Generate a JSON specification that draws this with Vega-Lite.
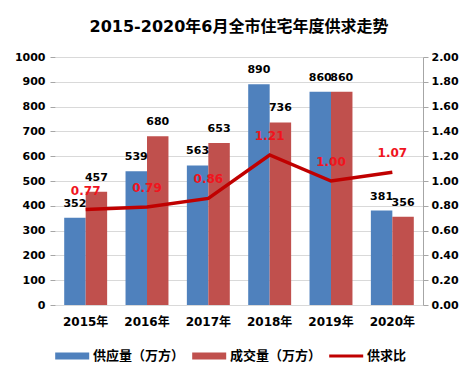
{
  "$schema": "https://vega.github.io/schema/vega-lite/v6.json",
  "width": 368,
  "height": 248,
  "padding": {"left": 14, "top": 19, "right": 5, "bottom": 5},
  "background": "white",
  "title": {
    "text": "2015-2020年6月全市住宅年度供求走势",
    "fontSize": 16,
    "font": "DejaVu Sans, Noto Sans CJK SC",
    "fontWeight": "bold",
    "color": "#000000",
    "anchor": "middle",
    "offset": 16
  },
  "config": {
    "view": {"stroke": null},
    "font": "DejaVu Sans, Noto Sans CJK SC",
    "axis": {
      "labelFont": "DejaVu Sans, Noto Sans CJK SC",
      "labelFontWeight": "bold",
      "labelColor": "#000000",
      "titleFontWeight": "bold"
    }
  },
  "datasets": {
    "bars": [
      {"year": "2015年", "series": "供应量（万方）", "value": 352},
      {"year": "2015年", "series": "成交量（万方）", "value": 457},
      {"year": "2016年", "series": "供应量（万方）", "value": 539},
      {"year": "2016年", "series": "成交量（万方）", "value": 680},
      {"year": "2017年", "series": "供应量（万方）", "value": 563},
      {"year": "2017年", "series": "成交量（万方）", "value": 653},
      {"year": "2018年", "series": "供应量（万方）", "value": 890},
      {"year": "2018年", "series": "成交量（万方）", "value": 736},
      {"year": "2019年", "series": "供应量（万方）", "value": 860},
      {"year": "2019年", "series": "成交量（万方）", "value": 860},
      {"year": "2020年", "series": "供应量（万方）", "value": 381},
      {"year": "2020年", "series": "成交量（万方）", "value": 356}
    ],
    "ratio": [
      {"year": "2015年", "ratio": 0.77},
      {"year": "2016年", "ratio": 0.79},
      {"year": "2017年", "ratio": 0.86},
      {"year": "2018年", "ratio": 1.21},
      {"year": "2019年", "ratio": 1.00},
      {"year": "2020年", "ratio": 1.07}
    ]
  },
  "layer": [
    {
      "data": {"name": "bars"},
      "encoding": {
        "x": {
          "field": "year",
          "type": "nominal",
          "title": null,
          "scale": {"paddingInner": 0.3, "paddingOuter": 0.15},
          "axis": {
            "labelAngle": 0,
            "labelFontSize": 12,
            "labelPadding": 11,
            "ticks": false,
            "domain": true,
            "domainColor": "#D9D9D9",
            "grid": false
          }
        },
        "xOffset": {
          "field": "series",
          "type": "nominal",
          "scale": {"domain": ["供应量（万方）", "成交量（万方）"]}
        },
        "y": {
          "field": "value",
          "type": "quantitative",
          "title": null,
          "scale": {"domain": [0, 1000]},
          "axis": {
            "values": [0, 100, 200, 300, 400, 500, 600, 700, 800, 900, 1000],
            "format": "d",
            "labelFontSize": 11,
            "labelPadding": 5,
            "domain": false,
            "ticks": true,
            "tickColor": "#A6A6A6",
            "tickSize": 5,
            "grid": true,
            "gridColor": "#D9D9D9"
          }
        }
      },
      "layer": [
        {
          "mark": {"type": "bar"},
          "encoding": {
            "color": {
              "field": "series",
              "type": "nominal",
              "scale": {
                "domain": ["供应量（万方）", "成交量（万方）", "供求比"],
                "range": ["#4F81BD", "#C0504D", "#C00000"]
              },
              "legend": {
                "title": null,
                "orient": "bottom",
                "direction": "horizontal",
                "symbolType": "M-1,-0.5H4V0.5H-1Z",
                "symbolSize": 185,
                "labelFont": "DejaVu Sans, Noto Sans CJK SC",
                "labelFontSize": 13,
                "labelFontWeight": "bold",
                "labelColor": "#000000",
                "labelOffset": 24,
                "columnPadding": 7,
                "offset": 22,
                "encode": {
                  "symbols": {
                    "update": {
                      "shape": {"signal": "datum.value === '供求比' ? 'M-1,-0.22H4V0.22H-1Z' : 'M-1,-0.5H4V0.5H-1Z'"},
                      "fill": {"signal": "scale('color', datum.value)"},
                      "stroke": {"value": "transparent"},
                      "strokeWidth": {"value": 0},
                      "opacity": {"value": 1},
                      "fillOpacity": {"value": 1}
                    }
                  }
                }
              }
            }
          }
        },
        {
          "mark": {
            "type": "text",
            "baseline": "bottom",
            "dy": -9,
            "fontSize": 11,
            "fontWeight": "bold",
            "color": "#000000",
            "font": "DejaVu Sans, Noto Sans CJK SC"
          },
          "encoding": {
            "text": {"field": "value", "type": "quantitative", "format": "d"}
          }
        }
      ]
    },
    {
      "data": {"name": "ratio"},
      "encoding": {
        "x": {"field": "year", "type": "nominal"},
        "y": {
          "field": "ratio",
          "type": "quantitative",
          "title": null,
          "scale": {"domain": [0, 2]},
          "axis": {
            "orient": "right",
            "values": [0, 0.2, 0.4, 0.6, 0.8, 1.0, 1.2, 1.4, 1.6, 1.8, 2.0],
            "format": ".2f",
            "labelFontSize": 11,
            "labelPadding": 3,
            "domain": true,
            "domainColor": "#A6A6A6",
            "ticks": true,
            "tickColor": "#A6A6A6",
            "tickSize": 5,
            "grid": false
          }
        }
      },
      "layer": [
        {
          "mark": {"type": "line", "strokeWidth": 3.5},
          "encoding": {
            "color": {"datum": "供求比", "type": "nominal"}
          }
        },
        {
          "mark": {
            "type": "text",
            "baseline": "bottom",
            "dy": -12,
            "fontSize": 12,
            "fontWeight": "bold",
            "color": "#F0141E",
            "font": "DejaVu Sans, Noto Sans CJK SC"
          },
          "encoding": {
            "text": {"field": "ratio", "type": "quantitative", "format": ".2f"}
          }
        }
      ]
    }
  ],
  "resolve": {"scale": {"y": "independent"}}
}
